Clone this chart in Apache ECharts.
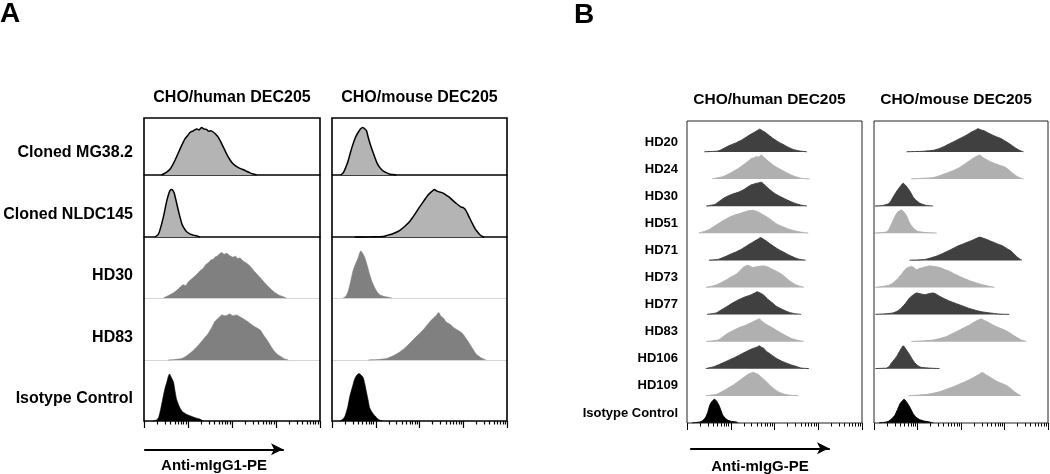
<!DOCTYPE html>
<html><head><meta charset="utf-8">
<script src="https://cdn.jsdelivr.net/npm/echarts@6/dist/echarts.min.js"></script>
<style>html,body{margin:0;padding:0;background:#fff}#c{width:1050px;height:474px}</style>
</head><body><div id="c"></div>
<script>
// ---------- DATA (x = log10 fluorescence, y = relative cell count) ----------
const panelLetters = ['A', 'B'];
const colTitles = ['CHO/human DEC205', 'CHO/mouse DEC205'];
const axisNameA = 'Anti-mIgG1-PE';
const axisNameB = 'Anti-mIgG-PE';
const rowsA = ['Cloned MG38.2', 'Cloned NLDC145', 'HD30', 'HD83', 'Isotype Control'];
const rowsB = ['HD20', 'HD24', 'HD30', 'HD51', 'HD71', 'HD73', 'HD77', 'HD83', 'HD106', 'HD109', 'Isotype Control'];
const decades = [0, 1, 2, 3, 4];
const minorMultipliers = [2, 3, 4, 5, 6, 7, 8, 9];

// Panel A, CHO/human DEC205
const aHum_MG382 = [[0.40,0],[0.50,5],[0.59,12],[0.70,30],[0.82,55],[0.93,76],[1.00,84],[1.05,90],[1.12,93],[1.20,97],[1.25,95],[1.31,100],[1.36,97],[1.42,96],[1.47,92],[1.52,93],[1.58,90],[1.63,86],[1.69,79],[1.77,65],[1.88,44],[1.96,31],[2.03,23],[2.10,18],[2.18,14],[2.26,11],[2.33,8],[2.40,5],[2.48,2],[2.56,0]];
const aHum_NLDC = [[0.25,0],[0.32,5],[0.36,14],[0.44,42],[0.52,77],[0.57,93],[0.60,99],[0.63,100],[0.67,96],[0.70,88],[0.78,56],[0.86,28],[0.92,17],[0.97,11],[1.05,6],[1.12,4],[1.20,2],[1.27,0]];
const aHum_HD30 = [[0.44,0],[0.55,5],[0.67,11],[0.78,19],[0.89,28],[0.95,26],[1.00,33],[1.12,43],[1.20,50],[1.27,57],[1.35,63],[1.40,70],[1.46,74],[1.52,80],[1.58,82],[1.61,86],[1.66,88],[1.72,93],[1.77,96],[1.82,92],[1.88,94],[1.95,89],[2.02,86],[2.08,88],[2.13,83],[2.18,84],[2.25,78],[2.32,74],[2.41,67],[2.52,55],[2.64,43],[2.75,31],[2.86,21],[2.95,13],[3.05,7],[3.15,3],[3.23,0]];
const aHum_HD83 = [[0.55,0],[0.70,1],[0.86,3],[0.97,9],[1.08,17],[1.18,26],[1.27,35],[1.36,45],[1.46,56],[1.55,70],[1.61,81],[1.70,89],[1.77,95],[1.85,93],[1.95,97],[2.02,93],[2.10,95],[2.18,91],[2.27,86],[2.34,82],[2.41,77],[2.52,70],[2.64,63],[2.72,52],[2.79,43],[2.87,31],[2.94,21],[3.03,12],[3.13,6],[3.20,2],[3.28,0]];
const aHum_Iso = [[0.21,0],[0.28,2],[0.33,7],[0.38,25],[0.44,53],[0.48,70],[0.52,82],[0.55,93],[0.58,99],[0.62,92],[0.67,82],[0.70,66],[0.74,46],[0.80,31],[0.86,21],[0.95,15],[1.05,11],[1.16,7],[1.27,4],[1.35,0]];
// Panel A, CHO/mouse DEC205
const aMou_MG382 = [[0.20,0],[0.26,5],[0.31,15],[0.37,30],[0.42,47],[0.48,65],[0.54,80],[0.60,90],[0.65,97],[0.70,100],[0.74,98],[0.79,93],[0.82,82],[0.86,69],[0.92,52],[0.98,37],[1.03,25],[1.09,16],[1.16,9],[1.24,5],[1.31,2],[1.39,1],[1.47,0]];
const aMou_NLDC = [[0.52,0],[0.90,0.5],[1.17,1],[1.28,4],[1.39,7],[1.47,10],[1.55,14],[1.66,22],[1.77,32],[1.88,46],[2.00,63],[2.10,76],[2.19,88],[2.27,95],[2.34,100],[2.39,97],[2.45,95],[2.53,93],[2.61,88],[2.68,84],[2.76,77],[2.85,70],[2.95,63],[3.00,62],[3.06,56],[3.13,43],[3.21,28],[3.28,16],[3.36,7],[3.42,2],[3.48,0]];
const aMou_HD30 = [[0.26,0],[0.32,4],[0.37,14],[0.42,32],[0.48,57],[0.54,72],[0.60,85],[0.63,94],[0.66,99],[0.70,94],[0.75,85],[0.80,70],[0.86,50],[0.92,33],[0.98,21],[1.03,13],[1.09,7],[1.20,3],[1.32,1],[1.36,0]];
const aMou_HD83 = [[0.83,0],[1.05,1],[1.24,3],[1.40,9],[1.55,17],[1.70,28],[1.85,42],[1.97,53],[2.08,63],[2.18,74],[2.27,84],[2.35,91],[2.40,96],[2.44,100],[2.49,92],[2.55,88],[2.61,80],[2.70,75],[2.80,67],[2.89,62],[2.98,56],[3.06,46],[3.14,35],[3.22,23],[3.29,13],[3.40,5],[3.52,0]];
const aMou_Iso = [[0.18,0],[0.25,4],[0.30,11],[0.36,30],[0.41,53],[0.47,73],[0.52,89],[0.57,97],[0.62,100],[0.66,97],[0.71,92],[0.75,78],[0.79,60],[0.83,42],[0.86,28],[0.92,18],[0.98,11],[1.04,5],[1.09,2],[1.15,0]];

// Panel B, CHO/human DEC205
const bHum_HD20 = [[0.40,1],[0.71,4],[0.80,11],[0.90,21],[1.01,30],[1.13,39],[1.25,50],[1.36,63],[1.46,74],[1.55,83],[1.61,90],[1.66,95],[1.72,89],[1.78,83],[1.87,70],[1.97,56],[2.06,45],[2.16,35],[2.27,24],[2.38,14],[2.48,8],[2.58,4],[2.74,1]];
const bHum_HD24 = [[0.58,1],[0.82,10],[0.94,20],[1.05,31],[1.17,44],[1.28,58],[1.38,72],[1.47,86],[1.53,88],[1.58,93],[1.64,92],[1.70,100],[1.75,92],[1.81,82],[1.89,70],[1.97,58],[2.06,48],[2.16,38],[2.27,27],[2.38,17],[2.50,9],[2.61,3],[2.80,1]];
const bHum_HD30 = [[0.44,1],[0.63,7],[0.72,18],[0.82,31],[0.93,42],[1.05,51],[1.17,58],[1.28,67],[1.38,79],[1.47,89],[1.53,92],[1.58,95],[1.64,97],[1.70,100],[1.75,93],[1.81,82],[1.90,68],[2.00,54],[2.11,42],[2.23,31],[2.36,20],[2.50,10],[2.62,4],[2.74,1]];
const bHum_HD51 = [[0.27,1],[0.40,8],[0.52,17],[0.63,30],[0.75,44],[0.87,57],[0.98,68],[1.09,76],[1.20,82],[1.30,88],[1.39,93],[1.45,95],[1.51,96],[1.58,92],[1.66,86],[1.75,76],[1.85,65],[1.95,52],[2.04,40],[2.15,30],[2.27,21],[2.40,13],[2.54,7],[2.66,3],[2.77,1]];
const bHum_HD71 = [[0.50,1],[0.71,4],[0.80,10],[0.90,18],[1.01,27],[1.13,36],[1.25,47],[1.36,60],[1.46,71],[1.55,81],[1.62,88],[1.68,95],[1.74,89],[1.81,81],[1.89,70],[1.97,60],[2.06,49],[2.16,39],[2.27,28],[2.38,18],[2.48,10],[2.58,4],[2.71,1]];
const bHum_HD73 = [[0.44,1],[0.56,5],[0.67,11],[0.78,20],[0.90,32],[1.01,44],[1.13,56],[1.21,70],[1.28,83],[1.34,90],[1.39,92],[1.45,88],[1.51,83],[1.58,86],[1.66,88],[1.73,90],[1.81,88],[1.89,82],[1.97,74],[2.05,67],[2.12,60],[2.20,50],[2.27,39],[2.36,26],[2.46,14],[2.56,6],[2.67,1]];
const bHum_HD77 = [[0.46,1],[0.67,7],[0.76,17],[0.86,28],[0.95,38],[1.05,49],[1.16,60],[1.28,70],[1.38,77],[1.47,83],[1.54,89],[1.60,95],[1.67,90],[1.74,83],[1.80,73],[1.85,63],[1.95,49],[2.04,35],[2.15,24],[2.27,14],[2.36,8],[2.46,4],[2.61,1]];
const bHum_HD83 = [[0.44,1],[0.71,7],[0.82,20],[0.93,35],[1.05,46],[1.16,56],[1.26,63],[1.36,70],[1.44,77],[1.51,83],[1.58,89],[1.65,95],[1.71,86],[1.78,76],[1.87,66],[1.97,56],[2.06,46],[2.16,35],[2.27,24],[2.38,14],[2.52,6],[2.67,1]];
const bHum_HD106 = [[0.43,1],[0.53,5],[0.63,10],[0.75,19],[0.86,28],[0.98,38],[1.09,47],[1.19,56],[1.28,65],[1.38,74],[1.47,82],[1.56,88],[1.62,92],[1.65,96],[1.70,90],[1.75,86],[1.82,72],[1.93,58],[2.04,44],[2.15,33],[2.27,24],[2.38,16],[2.50,10],[2.61,3],[2.79,1]];
const bHum_HD109 = [[0.43,1],[0.67,6],[0.76,14],[0.86,24],[0.95,34],[1.05,44],[1.14,56],[1.24,69],[1.32,80],[1.39,89],[1.45,94],[1.51,97],[1.58,93],[1.65,86],[1.71,76],[1.78,65],[1.85,52],[1.93,38],[2.02,25],[2.12,14],[2.23,7],[2.35,3],[2.55,1]];
const bHum_Iso = [[0.12,1],[0.29,4],[0.36,10],[0.43,25],[0.48,48],[0.52,74],[0.57,90],[0.63,99],[0.68,90],[0.73,74],[0.78,50],[0.82,32],[0.88,19],[0.94,11],[1.03,6],[1.13,4],[1.17,1]];
// Panel B, CHO/mouse DEC205
const bMou_HD20 = [[0.75,1],[0.95,2],[1.13,3],[1.25,5],[1.36,7],[1.48,13],[1.59,21],[1.70,31],[1.82,42],[1.93,52],[2.05,63],[2.15,73],[2.24,83],[2.32,90],[2.39,97],[2.46,92],[2.54,88],[2.63,79],[2.73,70],[2.82,63],[2.92,56],[3.01,46],[3.11,35],[3.21,22],[3.31,10],[3.38,4],[3.44,1]];
const bMou_HD24 = [[0.86,1],[1.10,3],[1.36,6],[1.51,14],[1.66,24],[1.80,34],[1.93,44],[2.05,58],[2.16,72],[2.24,82],[2.31,90],[2.37,96],[2.43,100],[2.50,90],[2.58,82],[2.67,73],[2.77,65],[2.88,58],[3.00,51],[3.10,38],[3.19,24],[3.28,12],[3.38,3],[3.44,1]];
const bMou_HD30 = [[0.02,1],[0.20,3],[0.33,10],[0.39,22],[0.44,38],[0.50,56],[0.56,72],[0.62,86],[0.67,96],[0.73,86],[0.79,72],[0.85,55],[0.90,38],[0.97,24],[1.05,13],[1.13,7],[1.21,3],[1.36,1]];
const bMou_HD51 = [[0.02,1],[0.18,3],[0.29,6],[0.35,18],[0.40,38],[0.46,62],[0.52,83],[0.58,93],[0.63,97],[0.69,88],[0.75,72],[0.80,50],[0.86,31],[0.94,16],[1.02,7],[1.20,3],[1.44,1]];
const bMou_HD71 = [[0.82,1],[1.00,2],[1.17,4],[1.30,10],[1.44,18],[1.57,28],[1.70,39],[1.82,50],[1.93,60],[2.03,67],[2.12,74],[2.22,81],[2.31,88],[2.37,93],[2.43,97],[2.50,93],[2.58,88],[2.67,81],[2.77,74],[2.86,67],[2.96,60],[3.05,50],[3.15,39],[3.23,25],[3.31,11],[3.36,5],[3.40,1]];
const bMou_HD73 = [[0.03,1],[0.20,4],[0.37,11],[0.47,24],[0.56,39],[0.64,57],[0.71,74],[0.78,83],[0.86,88],[0.92,82],[0.98,74],[1.03,78],[1.09,81],[1.18,86],[1.28,90],[1.40,87],[1.51,83],[1.62,75],[1.74,67],[1.85,56],[1.97,46],[2.08,37],[2.20,28],[2.35,19],[2.50,11],[2.64,5],[2.77,1]];
const bMou_HD77 = [[0.03,1],[0.25,3],[0.44,7],[0.54,15],[0.63,28],[0.73,48],[0.82,70],[0.90,82],[0.98,90],[1.08,86],[1.17,83],[1.26,87],[1.36,90],[1.44,84],[1.51,76],[1.62,66],[1.74,56],[1.90,45],[2.05,35],[2.20,25],[2.35,17],[2.50,11],[2.66,7],[2.89,2],[3.11,1]];
const bMou_HD83 = [[0.86,1],[1.10,3],[1.36,7],[1.51,13],[1.66,21],[1.82,35],[1.97,49],[2.08,59],[2.20,70],[2.28,79],[2.35,86],[2.41,91],[2.47,95],[2.54,88],[2.62,81],[2.71,72],[2.81,63],[2.90,56],[3.00,49],[3.10,39],[3.19,28],[3.29,17],[3.38,7],[3.50,1]];
const bMou_HD106 = [[0.03,1],[0.18,2],[0.29,3],[0.35,10],[0.40,24],[0.46,37],[0.52,51],[0.58,70],[0.63,86],[0.67,96],[0.72,86],[0.77,72],[0.82,58],[0.88,40],[0.94,24],[1.01,13],[1.09,6],[1.25,3],[1.51,1]];
const bMou_HD109 = [[0.79,1],[1.00,3],[1.21,6],[1.36,11],[1.51,17],[1.66,27],[1.82,38],[1.95,48],[2.08,58],[2.20,68],[2.31,79],[2.40,88],[2.49,97],[2.57,88],[2.66,79],[2.75,68],[2.85,58],[2.95,51],[3.04,44],[3.14,31],[3.23,17],[3.31,7],[3.38,1]];
const bMou_Iso = [[0.12,1],[0.25,3],[0.33,7],[0.41,18],[0.48,32],[0.54,56],[0.60,81],[0.65,92],[0.69,99],[0.74,90],[0.79,76],[0.85,57],[0.90,39],[0.97,24],[1.05,14],[1.16,8],[1.28,4],[1.36,1]];

const histA = [
  [aHum_MG382, aHum_NLDC, aHum_HD30, aHum_HD83, aHum_Iso],
  [aMou_MG382, aMou_NLDC, aMou_HD30, aMou_HD83, aMou_Iso]
];
const histB = [
  [bHum_HD20, bHum_HD24, bHum_HD30, bHum_HD51, bHum_HD71, bHum_HD73, bHum_HD77, bHum_HD83, bHum_HD106, bHum_HD109, bHum_Iso],
  [bMou_HD20, bMou_HD24, bMou_HD30, bMou_HD51, bMou_HD71, bMou_HD73, bMou_HD77, bMou_HD83, bMou_HD106, bMou_HD109, bMou_Iso]
];

// ---------- LAYOUT / STYLE ----------
const FF = '"Liberation Sans", Arial, Helvetica, sans-serif';
const colsA = [{ left: 144, width: 176 }, { left: 332, width: 175 }];
const rowEdgesA = [118, 175, 237, 298, 360, 421];
const colsB = [{ left: 687, width: 175 }, { left: 874, width: 174 }];
const boxTopB = 121, boxBottomB = 423, rowHB = 27.1;
const PEAK_A = 47.5, PEAK_B = 24;

const grids = [], xAxes = [], yAxes = [], series = [], graphics = [];
const minorVals = [];
decades.slice(0, -1).forEach(d => minorMultipliers.forEach(k => minorVals.push(d + Math.log10(k))));

function addCell(left, top, width, height, ymax, data, fill, line, lw, divider) {
  const gi = grids.length, xi = xAxes.length, yi = yAxes.length;
  grids.push({ left, top, width, height });
  xAxes.push({
    gridIndex: gi, type: 'value', min: 0, max: 4,
    axisLine: { show: !!divider, lineStyle: divider ? { color: divider.color, width: divider.width } : {} },
    axisTick: { show: false }, axisLabel: { show: false }, splitLine: { show: false }
  });
  yAxes.push({ gridIndex: gi, type: 'value', min: 0, max: ymax, show: false });
  series.push({
    type: 'line', xAxisIndex: xi, yAxisIndex: yi, data, symbol: 'none', smooth: 0.2,
    clip: false, silent: true, animation: false,
    lineStyle: { color: line, width: lw }, areaStyle: { color: fill, opacity: 1 }
  });
}

function addBox(left, top, width, height, borderWidth, borderColor, tickW) {
  const gi = grids.length;
  grids.push({ left, top, width, height, show: true, borderColor, borderWidth, backgroundColor: 'transparent', z: 5 });
  xAxes.push({
    gridIndex: gi, type: 'value', min: 0, max: 4, interval: 1, position: 'bottom',
    axisLine: { show: false }, axisLabel: { show: false }, splitLine: { show: false },
    axisTick: { show: true, length: 7, lineStyle: { color: '#000', width: tickW } }
  });
  xAxes.push({
    gridIndex: gi, type: 'value', min: 0, max: 4, position: 'bottom', offset: 0,
    axisLine: { show: false }, axisLabel: { show: false }, splitLine: { show: false },
    axisTick: { show: true, length: 3.5, customValues: minorVals, lineStyle: { color: '#000', width: tickW } }
  });
  yAxes.push({ gridIndex: gi, type: 'value', min: 0, max: 1, show: false });
}

function addArrow(left, top, width, name, gap) {
  const gi = grids.length;
  grids.push({ left, top, width, height: 1 });
  xAxes.push({
    gridIndex: gi, type: 'value', min: 0, max: 1, position: 'bottom',
    axisLine: { show: true, symbol: ['none', 'arrow'], symbolSize: [9, 12], lineStyle: { color: '#000', width: 2.2 } },
    axisTick: { show: false }, axisLabel: { show: false }, splitLine: { show: false },
    name, nameLocation: 'middle', nameGap: gap,
    nameTextStyle: { fontFamily: FF, fontWeight: 'bold', fontSize: 15, color: '#000' }
  });
  yAxes.push({ gridIndex: gi, type: 'value', min: 0, max: 1, show: false });
}

function text(str, x, y, size, align) {
  graphics.push({
    type: 'text', x, y, silent: true,
    style: { text: str, font: 'bold ' + size + 'px ' + FF, fill: '#000',
      align, verticalAlign: 'middle', textAlign: align, textVerticalAlign: 'middle' }
  });
}

// Panel A cells
const styleA = [
  { fill: '#b4b4b4', line: '#000', lw: 1.5, div: { color: '#000', width: 1.5 } },
  { fill: '#b4b4b4', line: '#000', lw: 1.5, div: { color: '#000', width: 1.5 } },
  { fill: '#808080', line: '#808080', lw: 0.6, div: { color: '#d6d6d6', width: 1 } },
  { fill: '#808080', line: '#808080', lw: 0.6, div: { color: '#d6d6d6', width: 1 } },
  { fill: '#000', line: '#000', lw: 0.6, div: null }
];
colsA.forEach((c, ci) => {
  rowsA.forEach((r, ri) => {
    const top = rowEdgesA[ri], h = rowEdgesA[ri + 1] - rowEdgesA[ri];
    const s = styleA[ri];
    addCell(c.left, top, c.width, h, h * 100 / PEAK_A, histA[ci][ri], s.fill, s.line, s.lw, s.div);
  });
  addBox(c.left, rowEdgesA[0], c.width, rowEdgesA[5] - rowEdgesA[0], 1.6, '#000', 1.2);
  text(colTitles[ci], c.left + c.width / 2, 98, 16, 'center');
});
rowsA.forEach((r, ri) => text(r, 133, rowEdgesA[ri + 1] - 22, 16, 'right'));
addArrow(145, 449, 138, axisNameA, 9);

// Panel B cells
colsB.forEach((c, ci) => {
  rowsB.forEach((r, ri) => {
    const base = boxBottomB - (rowsB.length - 1 - ri) * rowHB;
    const last = ri === rowsB.length - 1;
    const col = last ? '#000' : (ri % 2 === 0 ? '#404040' : '#b0b0b0');
    addCell(c.left, base - rowHB, c.width, rowHB, rowHB * 100 / PEAK_B, histB[ci][ri], col, col, 1, null);
  });
  addBox(c.left, boxTopB, c.width, boxBottomB - boxTopB, 1, '#222', 1);
  text(colTitles[ci], c.left + c.width / 2 - 5, 100, 15.5, 'center');
});
rowsB.forEach((r, ri) => {
  const base = boxBottomB - (rowsB.length - 1 - ri) * rowHB;
  text(r, 678, base - 10, 13, 'right');
});
addArrow(691, 448, 138, axisNameB, 11);

// panel letters
graphics.push({ type: 'text', x: 0, y: 0, silent: true, style: { text: panelLetters[0], font: 'bold 28px ' + FF, fill: '#000', verticalAlign: 'top', textVerticalAlign: 'top' } });
graphics.push({ type: 'text', x: 574, y: 1, silent: true, style: { text: panelLetters[1], font: 'bold 28px ' + FF, fill: '#000', verticalAlign: 'top', textVerticalAlign: 'top' } });

const chart = echarts.init(document.getElementById('c'), null, { renderer: 'canvas' });
chart.setOption({
  backgroundColor: '#fff',
  animation: false,
  grid: grids, xAxis: xAxes, yAxis: yAxes, series,
  graphic: { elements: graphics }
});
</script>
</body></html>
